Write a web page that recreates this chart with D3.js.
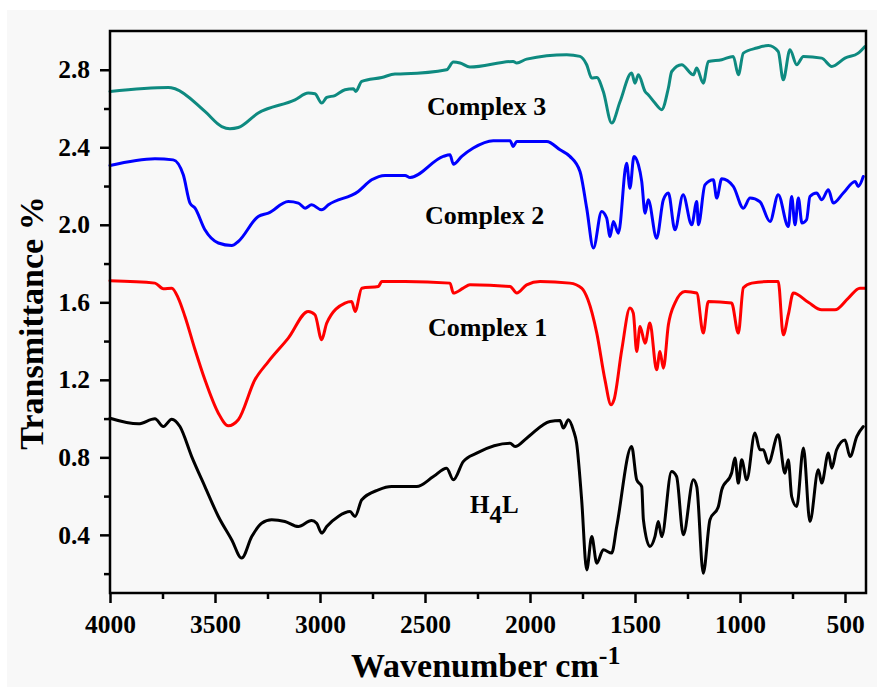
<!DOCTYPE html>
<html>
<head>
<meta charset="utf-8">
<script src="https://cdn.jsdelivr.net/npm/d3@7"></script>
<style>
  html, body { margin: 0; padding: 0; background: #ffffff; }
  svg { display: block; }
  text { font-family: "Liberation Serif", "Times New Roman", serif; font-weight: bold; fill: #000; }
</style>
</head>
<body>
<svg id="chart" width="877" height="687"></svg>
<script>
// ---------------- data ----------------
const xMajorTicks = [4000, 3500, 3000, 2500, 2000, 1500, 1000, 500];
const xMinorTicks = [3750, 3250, 2750, 2250, 1750, 1250, 750];
const yMajorTicks = [0.4, 0.8, 1.2, 1.6, 2.0, 2.4, 2.8];
const yMinorTicks = [0.2, 0.6, 1.0, 1.4, 1.8, 2.2, 2.6];

const h4lWn = [4000,3865,3786,3746,3706,3667,3611,3548,3484,3420,3373,3325,3278,3230,3167,3103,3040,3016,2992,2968,2913,2857,2833,2801,2722,2659,2540,2460,2397,2365,2318,2254,2095,2071,2016,1905,1857,1841,1817,1794,1778,1754,1730,1706,1682,1651,1611,1587,1516,1492,1468,1460,1429,1405,1389,1373,1326,1302,1270,1222,1206,1175,1143,1103,1087,1040,1024,1008,992,968,929,905,889,865,818,786,770,754,730,698,667,627,611,579,563,540,500,476,444,413];
const h4lT  = [1.002,0.973,0.999,0.959,0.997,0.959,0.804,0.649,0.495,0.374,0.280,0.391,0.460,0.478,0.469,0.443,0.474,0.460,0.409,0.443,0.495,0.520,0.495,0.581,0.632,0.649,0.649,0.701,0.744,0.684,0.778,0.822,0.873,0.856,0.899,0.985,0.990,0.951,0.994,0.942,0.873,0.581,0.219,0.391,0.254,0.323,0.306,0.443,0.856,0.684,0.649,0.478,0.340,0.391,0.469,0.391,0.727,0.701,0.400,0.684,0.649,0.202,0.478,0.546,0.632,0.719,0.796,0.667,0.787,0.684,0.925,0.839,0.839,0.770,0.916,0.718,0.787,0.598,0.546,0.848,0.469,0.736,0.667,0.822,0.744,0.839,0.890,0.804,0.907,0.959];

const c1Wn = [4000,3786,3746,3706,3675,3643,3595,3548,3484,3437,3389,3310,3246,3151,3056,3024,2992,2968,2881,2849,2833,2801,2722,2706,2595,2381,2365,2318,2286,2095,2063,2016,1952,1810,1754,1724,1682,1643,1614,1600,1563,1524,1508,1492,1476,1452,1429,1397,1381,1365,1341,1310,1262,1206,1175,1151,1040,1008,984,944,865,818,794,770,746,675,611,548,484,429,405];
const c1T  = [1.711,1.699,1.670,1.673,1.622,1.527,1.355,1.200,1.028,0.963,0.994,1.200,1.294,1.415,1.553,1.536,1.407,1.493,1.596,1.604,1.553,1.673,1.682,1.707,1.707,1.699,1.648,1.673,1.690,1.682,1.648,1.690,1.707,1.699,1.673,1.613,1.441,1.200,1.071,1.097,1.355,1.570,1.544,1.346,1.475,1.389,1.493,1.252,1.346,1.260,1.484,1.596,1.656,1.648,1.441,1.604,1.596,1.441,1.675,1.699,1.707,1.707,1.432,1.536,1.648,1.600,1.561,1.561,1.622,1.673,1.673];

const c2Wn = [4000,3786,3699,3651,3619,3595,3548,3484,3420,3389,3294,3246,3151,3103,3071,3040,2992,2960,2818,2754,2690,2595,2571,2413,2381,2365,2325,2270,2175,2095,2080,2063,1920,1857,1810,1762,1730,1698,1659,1635,1619,1603,1579,1540,1524,1505,1484,1468,1452,1437,1397,1365,1341,1310,1271,1230,1206,1198,1167,1127,1111,1087,1032,984,952,905,857,818,770,754,738,722,705,683,667,635,611,579,556,508,452,437,413];
const c2T  = [2.306,2.341,2.335,2.258,2.112,2.086,1.974,1.906,1.893,1.914,2.043,2.060,2.120,2.112,2.086,2.103,2.077,2.103,2.172,2.232,2.255,2.255,2.244,2.353,2.361,2.313,2.353,2.396,2.434,2.434,2.404,2.430,2.430,2.387,2.353,2.275,2.086,1.880,2.069,2.035,1.940,2.017,1.957,2.318,2.189,2.353,2.310,2.224,2.060,2.129,1.931,2.129,2.164,1.974,2.155,2.000,2.120,2.000,2.206,2.232,2.138,2.237,2.198,2.086,2.138,2.119,2.017,2.155,1.991,2.146,2.000,2.138,2.009,2.026,2.146,2.164,2.129,2.181,2.112,2.164,2.224,2.198,2.249];

const c3Wn = [4000,3722,3690,3548,3468,3429,3389,3294,3119,3056,3024,2992,2968,2929,2881,2841,2830,2801,2706,2643,2595,2397,2365,2333,2286,2080,2063,2016,1825,1762,1730,1706,1682,1651,1611,1571,1516,1500,1484,1452,1437,1405,1373,1341,1325,1278,1222,1206,1175,1151,1087,1032,1008,984,920,865,818,794,762,730,698,611,563,500,437,405];
const c3T  = [2.688,2.709,2.702,2.585,2.507,2.496,2.502,2.577,2.645,2.680,2.676,2.628,2.657,2.667,2.697,2.702,2.688,2.740,2.760,2.778,2.779,2.800,2.840,2.835,2.814,2.843,2.835,2.855,2.877,2.869,2.826,2.757,2.760,2.688,2.525,2.636,2.783,2.731,2.774,2.688,2.671,2.628,2.594,2.706,2.791,2.826,2.774,2.809,2.731,2.843,2.852,2.869,2.774,2.886,2.912,2.925,2.894,2.748,2.903,2.826,2.869,2.860,2.817,2.860,2.886,2.920];

const seriesNames  = ["H4L", "Complex 1", "Complex 2", "Complex 3"];
const seriesColors = ["#000000", "#ff0000", "#0000ff", "#0e8a80"];

// ---------------- chart ----------------
const svg = d3.select("#chart");
const W = 877, H = 687;
const m = { left: 110, right: 866, top: 31, bottom: 593 };

svg.append("rect").attr("x", 0).attr("y", 0).attr("width", W).attr("height", H).attr("fill", "#ffffff");
svg.append("rect").attr("x", 7).attr("y", 10).attr("width", W - 7).attr("height", H - 10).attr("fill", "#f8f8f8");

const x = d3.scaleLinear().domain([4000, 400]).range([m.left, m.right]);
const y = d3.scaleLinear().domain([0.1, 3.0]).range([m.bottom, m.top]);

const line = d3.line()
  .x(d => x(d[0]))
  .y(d => y(d[1]))
  .curve(d3.curveMonotoneX);

const allSeries = [
  d3.zip(h4lWn, h4lT),
  d3.zip(c1Wn, c1T),
  d3.zip(c2Wn, c2T),
  d3.zip(c3Wn, c3T)
];

svg.append("g").selectAll("path")
  .data(allSeries)
  .join("path")
  .attr("d", line)
  .attr("fill", "none")
  .attr("stroke", (d, i) => seriesColors[i])
  .attr("stroke-width", 3)
  .attr("stroke-linejoin", "round")
  .attr("stroke-linecap", "round");

// axes
const fontTick = 25.5;
const xAxisMajor = d3.axisBottom(x).tickValues(xMajorTicks).tickSize(10).tickSizeOuter(0).tickPadding(12).tickFormat(d3.format("d"));
const xAxisMinor = d3.axisBottom(x).tickValues(xMinorTicks).tickSize(6).tickSizeOuter(0).tickFormat("");
const yAxisMajor = d3.axisLeft(y).tickValues(yMajorTicks).tickSize(10).tickSizeOuter(0).tickPadding(10).tickFormat(d3.format(".1f"));
const yAxisMinor = d3.axisLeft(y).tickValues(yMinorTicks).tickSize(6).tickSizeOuter(0).tickFormat("");

function styleAxis(g) {
  g.select(".domain").remove();
  g.selectAll(".tick line").attr("stroke", "#000").attr("stroke-width", 2.5);
  g.selectAll(".tick text").attr("font-size", fontTick).attr("font-family", "Liberation Serif, Times New Roman, serif").attr("font-weight", "bold").attr("fill", "#000");
}

svg.append("g").attr("transform", `translate(0,${m.bottom})`).call(xAxisMajor).call(styleAxis);
svg.append("g").attr("transform", `translate(0,${m.bottom})`).call(xAxisMinor).call(styleAxis);
svg.append("g").attr("transform", `translate(${m.left},0)`).call(yAxisMajor).call(styleAxis);
svg.append("g").attr("transform", `translate(${m.left},0)`).call(yAxisMinor).call(styleAxis);

// frame
svg.append("rect")
  .attr("x", m.left).attr("y", m.top)
  .attr("width", m.right - m.left).attr("height", m.bottom - m.top)
  .attr("fill", "none").attr("stroke", "#000").attr("stroke-width", 2.5);

// axis titles
const xt = svg.append("text").attr("x", 351).attr("y", 677).attr("font-size", 34);
xt.append("tspan").text("Wavenumber cm");
xt.append("tspan").attr("dy", -13).attr("font-size", 26).text("-1");

svg.append("text")
  .attr("transform", "translate(43,323) rotate(-90)")
  .attr("text-anchor", "middle")
  .attr("font-size", 34)
  .text("Transmittance %");

// series labels
const labelPos = [[470, 513], [428, 336], [425, 224], [427, 115]];
seriesNames.forEach((name, i) => {
  const t = svg.append("text").attr("x", labelPos[i][0]).attr("y", labelPos[i][1]).attr("font-size", 26);
  if (name === "H4L") {
    t.attr("font-size", 25);
    t.append("tspan").text("H");
    t.append("tspan").attr("dy", 10).text("4");
    t.append("tspan").attr("dy", -10).text("L");
  } else {
    t.text(name);
  }
});
</script>
</body>
</html>
